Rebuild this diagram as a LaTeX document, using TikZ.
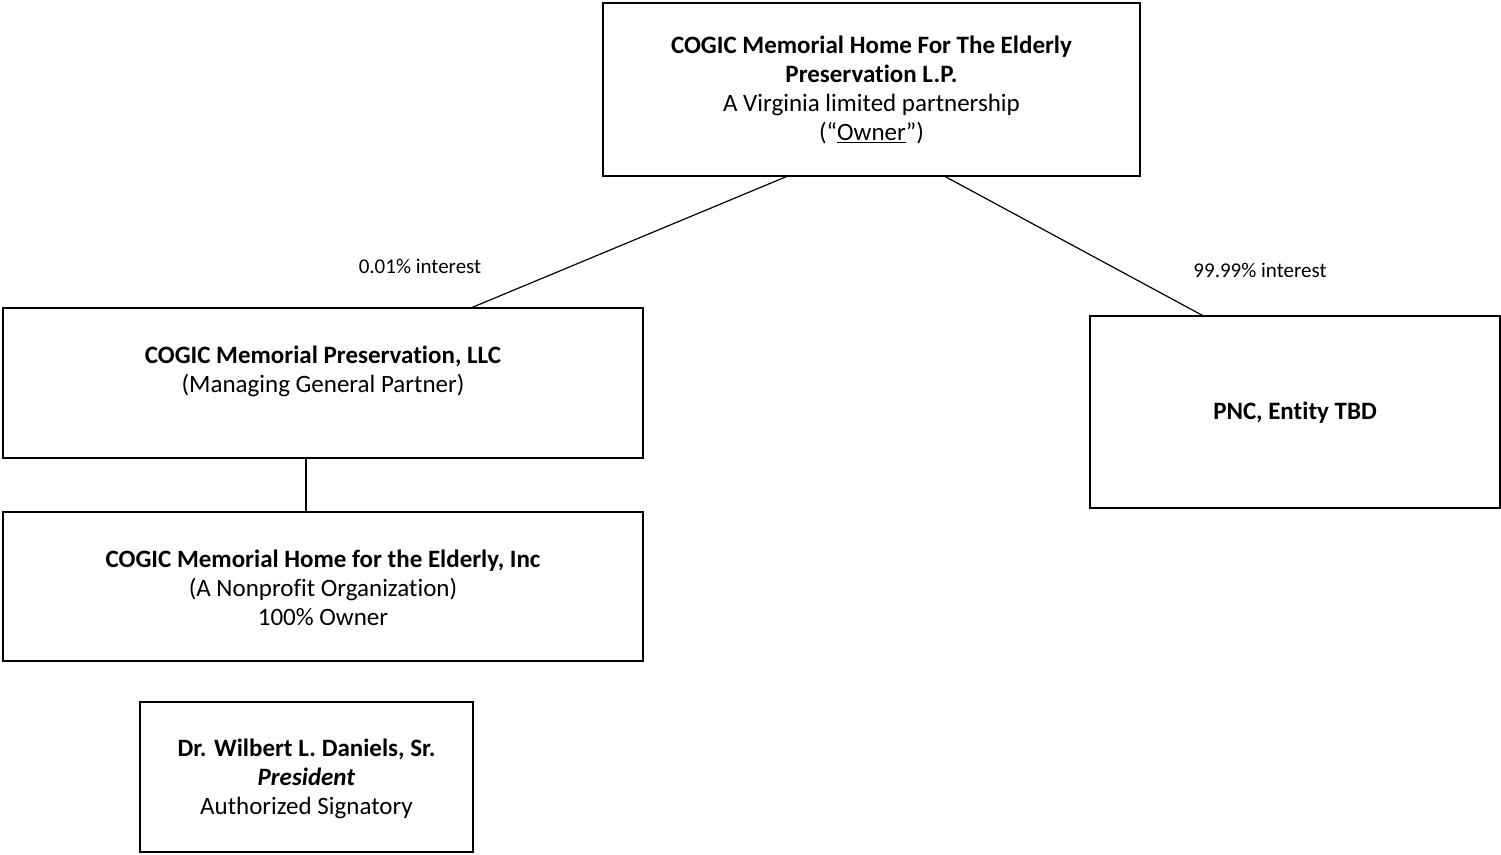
\documentclass[tikz,border=0pt]{standalone}
\usepackage{fontspec}
\setmainfont{Carlito}[Ligatures=NoCommon]
\usetikzlibrary{calc}
\begin{document}
\begin{tikzpicture}[x=1pt,y=-1pt,
  box/.style={draw,line width=1.3pt,rectangle,inner sep=0pt},
  txt/.style={align=center,font=\fontsize{25}{29}\selectfont,inner sep=0pt},
  lbl/.style={font=\fontsize{21}{24}\selectfont,inner sep=0pt},
  conn/.style={line width=1.2pt}]
\useasboundingbox (0,0) rectangle (1501,854);
\node[box,minimum width=537pt,minimum height=173pt] (top) at (871.5,89.5) {};
\node[txt] (ttop) at (871.5,90) {\textbf{COGIC Memorial Home For The Elderly}\\\textbf{Preservation L.P.}\\A Virginia limited partnership\\(“\underline{Owner}”)};
\node[box,minimum width=640pt,minimum height=150pt] (mgp) at (323,383) {};
\node[txt] (tmgp) at (323,371) {\textbf{COGIC Memorial Preservation, LLC}\\(Managing General Partner)};
\node[box,minimum width=410pt,minimum height=192pt] (pnc) at (1295,412) {};
\node[txt] (tpnc) at (1295,413) {\textbf{PNC, Entity TBD}};
\node[box,minimum width=640pt,minimum height=149pt] (np) at (323,586.5) {};
\node[txt] (tnp) at (323,588) {\textbf{COGIC Memorial Home for the Elderly, Inc}\\(A Nonprofit Organization)\\100\% Owner};
\node[box,minimum width=333pt,minimum height=150pt] (pres) at (306.5,777) {};
\node[txt] (tpres) at (306.5,779) {\textbf{Dr. Wilbert L. Daniels, Sr.}\\\textbf{\textit{President}}\\Authorized Signatory};
\node[lbl] (l1) at (420,266) {0.01\% interest};
\node[lbl] (l2) at (1260,270) {99.99\% interest};
\draw[conn] ($(top.south west)+(184,0)$) -- ($(mgp.north west)+(470,0)$);
\draw[conn] ($(top.south west)+(343,0)$) -- ($(pnc.north west)+(113,0)$);
\draw[conn] (mgp.south -| 306,0) -- (np.north -| 306,0);
\end{tikzpicture}
\end{document}
